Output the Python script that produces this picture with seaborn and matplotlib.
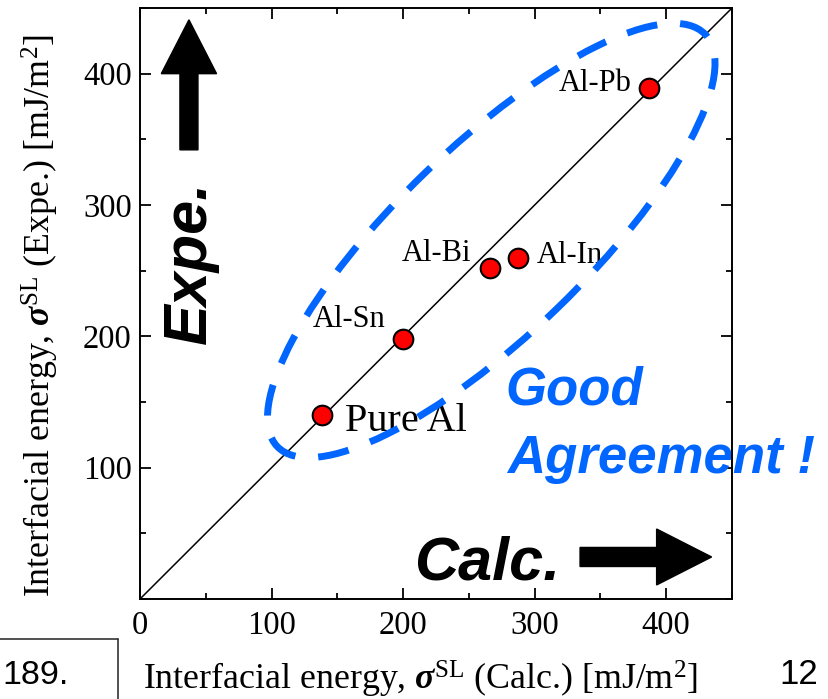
import numpy as np
import pandas as pd
import seaborn as sns
import matplotlib
matplotlib.use("Agg")
import matplotlib.pyplot as plt
from matplotlib.patches import Ellipse, FancyArrow
from matplotlib.ticker import MultipleLocator, FixedLocator
from matplotlib.lines import Line2D

# ---- data ----
names = ["Pure Al", "Al-Sn", "Al-Bi", "Al-In", "Al-Pb"]
calc = [138, 200, 266, 287, 387]
expe = [140, 198, 252, 260, 389]
x_ticks = [0, 100, 200, 300, 400]
y_ticks = [100, 200, 300, 400]
# label offsets (points) and alignment
label_off = [(16.8, -11.5), (-12.7, 8.6), (-13.2, 4.8), (13.7, -3.6), (-12.7, -2.4)]
label_ha = ["left", "right", "right", "left", "right"]
label_fs = [29, 22, 22, 22, 22]

BLUE = "#0066ff"

sns.set_style("ticks")
plt.rcParams["font.family"] = ["Liberation Serif", "DejaVu Serif"]
plt.rcParams["mathtext.fontset"] = "custom"
plt.rcParams["mathtext.rm"] = "Liberation Serif"
plt.rcParams["mathtext.it"] = "Liberation Serif:italic"
plt.rcParams["mathtext.bf"] = "Liberation Serif:bold"
plt.rcParams["mathtext.bfit"] = "Liberation Serif:italic:bold"
for k in ["text.color", "axes.labelcolor", "xtick.color", "ytick.color",
          "xtick.labelcolor", "ytick.labelcolor"]:
    plt.rcParams[k] = "black"

W, H = 829, 699
fig = plt.figure(figsize=(W / 100, H / 100), dpi=100)
ax = fig.add_axes([140 / W, 1 - 599 / H, 592 / W, 591 / H])

df = pd.DataFrame({"name": names, "calc": calc, "expe": expe})

ax.plot([0, 450], [0, 450], color="black", lw=1.1, zorder=1)
sns.scatterplot(data=df, x="calc", y="expe", s=200, color="#ff0000",
                edgecolor="black", linewidth=1.5, zorder=4, ax=ax, legend=False)

for (nm, xv, yv), off, ha, fs in zip(zip(names, calc, expe), label_off, label_ha, label_fs):
    ax.annotate(nm, (xv, yv), xytext=off, textcoords="offset points",
                ha=ha, va="baseline", fontsize=fs, color="black", zorder=3)

ell = Ellipse((267, 273), 452, 144, angle=44, fill=False, edgecolor=BLUE,
              lw=5, linestyle=(0, (4.5, 3.3)), zorder=5)
ax.add_patch(ell)

# big arrows
ax.add_patch(FancyArrow(37.2, 342, 0, 99, width=13.7, head_width=42,
                        head_length=41, length_includes_head=True,
                        color="black", zorder=3))
ax.add_patch(FancyArrow(334.5, 32, 100, 0, width=14.5, head_width=42.6,
                        head_length=41.8, length_includes_head=True,
                        color="black", zorder=3))

sans = ["Liberation Sans", "DejaVu Sans"]
ax.text(263.8, 14.5, "Calc.", ha="center", va="baseline", fontsize=44,
        fontweight="bold", style="italic", family=sans, color="black")
ax.text(38, 256.6, "Expe.", rotation=90, ha="center", va="center", fontsize=44,
        fontweight="bold", style="italic", family=sans, color="black")
ax.text(277.4, 147.8, "Good", ha="left", va="baseline", fontsize=38,
        fontweight="bold", style="italic", family=sans, color=BLUE,
        clip_on=False, zorder=2)
ax.text(278.9, 96, "Agreement !", ha="left", va="baseline", fontsize=38,
        fontweight="bold", style="italic", family=sans, color=BLUE,
        clip_on=False, zorder=2)

ax.set_xlim(0, 450)
ax.set_ylim(0, 450)
ax.xaxis.set_major_locator(FixedLocator(x_ticks))
ax.yaxis.set_major_locator(FixedLocator(y_ticks))
ax.xaxis.set_minor_locator(MultipleLocator(50))
ax.yaxis.set_minor_locator(MultipleLocator(50))
ax.tick_params(which="both", direction="in", top=True, right=True,
               color="black", width=1.3)
ax.tick_params(which="major", length=8)
ax.tick_params(which="minor", length=4.5)
ax.tick_params(axis="x", which="major", labelsize=23.5, pad=8, labelcolor="black")
ax.tick_params(axis="y", which="major", labelsize=23.5, pad=6, labelcolor="black")
for sp in ax.spines.values():
    sp.set_visible(True)
    sp.set_linewidth(1.4)
    sp.set_color("black")
ax.set_xlabel("")
ax.set_ylabel("")

fig.text(143 / W, 1 - 690 / H,
         r"Interfacial energy, $\mathbfit{\sigma}^{\rm SL}$ (Calc.) [mJ/m$^2$]",
         ha="left", va="baseline", fontsize=25.8, color="black")
fig.text(40 / W, 1 - 316 / H,
         r"Interfacial energy, $\mathbfit{\sigma}^{\rm SL}$ (Expe.) [mJ/m$^2$]",
         rotation=90, ha="center", va="center", fontsize=25.8, color="black")

# slide artifacts at the bottom
fig.text(2 / W, 1 - 684 / H, "189.", ha="left", va="baseline", fontsize=24.5,
         family=sans, color="black")
fig.text(779 / W, 1 - 684 / H, "12", ha="left", va="baseline", fontsize=25,
         family=sans, color="black")
fig.add_artist(Line2D([0, 117.7 / W], [1 - 639 / H, 1 - 639 / H],
                      transform=fig.transFigure, color="#222222", lw=1.1))
fig.add_artist(Line2D([117.7 / W, 117.7 / W], [1 - 639 / H, 0],
                      transform=fig.transFigure, color="#222222", lw=1.1))

fig.savefig("out.png", dpi=100)
